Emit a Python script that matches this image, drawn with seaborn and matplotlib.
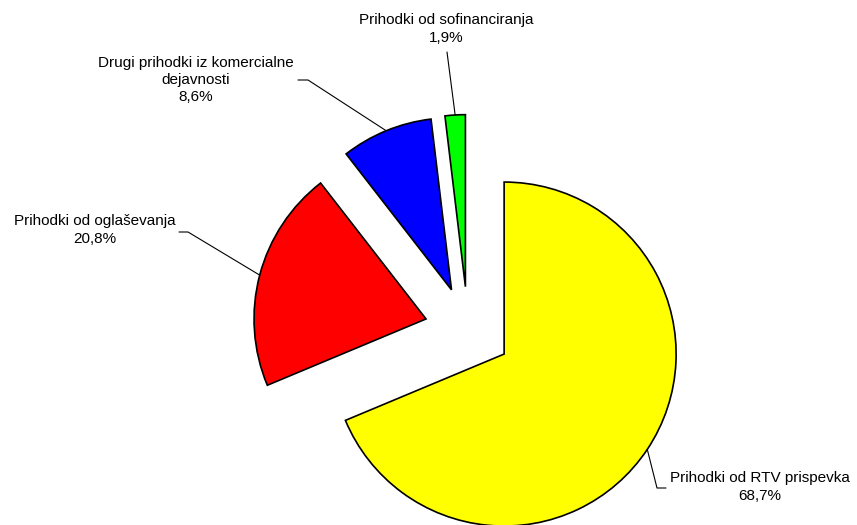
import numpy as np
import matplotlib
matplotlib.use("Agg")
import matplotlib.pyplot as plt
import seaborn as sns

labels = [
    "Prihodki od RTV prispevka",
    "Prihodki od oglaševanja",
    "Drugi prihodki iz komercialne\ndejavnosti",
    "Prihodki od sofinanciranja",
]
values = [68.7, 20.8, 8.6, 1.9]
colors = ["#FFFF00", "#FF0000", "#0000FF", "#00FF00"]

sns.set_style("white")
plt.rcParams["font.family"] = ["Liberation Sans", "DejaVu Sans"]

fig = plt.figure(figsize=(8.57, 5.25), dpi=100)
ax = fig.add_axes([0, 0, 1, 1])

# pie explode is in data units here (pixels)
wedges, _ = ax.pie(
    values,
    colors=colors,
    explode=[43.4] * 4,
    startangle=90,
    counterclock=False,
    center=(468, 195),
    radius=172,
    wedgeprops=dict(edgecolor="black", linewidth=1.2),
)
ax.set_xlim(0, 857)
ax.set_ylim(0, 525)
ax.set_aspect("equal")
ax.axis("off")

# label text centre, line start, elbow (pixel layout, y measured upward)
layout = [
    ((760, 38), (666, 37), (657, 37)),
    ((95, 295), (179, 293), (188, 293)),
    ((196, 445), (298, 445), (308, 445)),
    ((446, 496), (447, 473), (447, 473)),
]

for w, val, lab, (tpos, p0, p1) in zip(wedges, values, labels, layout):
    mid = np.deg2rad((w.theta1 + w.theta2) / 2)
    cx, cy = w.center
    anchor = (cx + w.r * np.cos(mid), cy + w.r * np.sin(mid))
    ax.plot([p0[0], p1[0], anchor[0]], [p0[1], p1[1], anchor[1]],
            color="black", linewidth=0.8)
    txt = f"{lab}\n{val:.1f}%".replace(".", ",")
    ax.text(tpos[0], tpos[1], txt, ha="center", va="center", fontsize=11,
            linespacing=1.3, color="black")

fig.savefig("out.png", dpi=100)
